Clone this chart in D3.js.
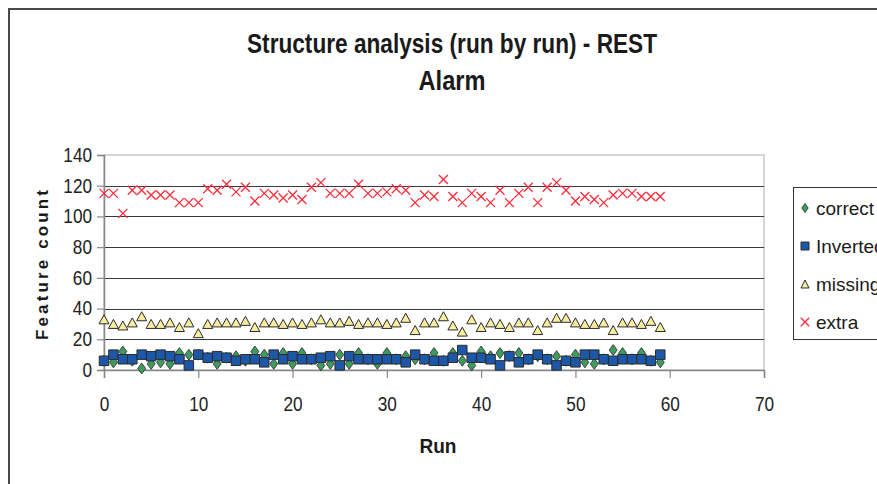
<!DOCTYPE html>
<html>
<head>
<meta charset="utf-8">
<script src="https://cdn.jsdelivr.net/npm/d3@7"></script>
<style>
  html, body { margin: 0; padding: 0; background: #fff; }
  svg { display: block; font-family: "Liberation Sans", Arial, sans-serif; }
</style>
</head>
<body>
<svg id="chart" width="877" height="484"></svg>
<script>
// ---- data ----
const runs = [0,1,2,3,4,5,6,7,8,9,10,11,12,13,14,15,16,17,18,19,20,21,22,23,24,25,26,27,28,29,
              30,31,32,33,34,35,36,37,38,39,40,41,42,43,44,45,46,47,48,49,50,51,52,53,54,55,56,57,58,59];
const correct = [6,5,12,6,1,4,5,4,11,10,10,8,4,8,9,6,12,10,4,11,4,11,7,3,4,10,4,11,7,4,
                 11,7,9,7,7,11,6,11,6,3,12,9,11,9,11,7,9,7,9,6,10,5,4,7,13,11,7,11,6,5];
const inverted = [6,10,7,7,10,9,10,9,7,3,10,8,9,8,6,7,7,5,10,7,9,7,7,8,9,3,9,7,7,7,
                  7,7,5,10,7,6,6,8,13,8,8,7,3,9,5,7,10,7,3,6,5,10,10,7,6,7,7,7,6,10];
const missing = [33,30,29,31,35,30,30,31,28,31,24,30,31,31,31,32,28,31,31,30,31,30,31,33,31,31,32,30,31,31,
                 30,31,34,26,31,31,35,29,25,33,28,31,30,28,31,31,26,31,34,34,31,30,30,31,26,31,31,30,32,28];
const extra = [115,115,102,117,117,114,114,114,109,109,109,118,117,121,116,119,110,115,114,112,114,111,119,122,115,115,115,121,115,115,
               116,118,117,109,114,113,124,113,109,115,113,109,117,109,115,119,109,119,122,117,110,113,111,109,114,115,115,113,113,113];
const seriesNames = ["correct", "Inverted", "missing", "extra"];
const xTicks = [0,10,20,30,40,50,60,70];
const yTicks = [0,20,40,60,80,100,120,140];
const titleLines = ["Structure analysis (run by run) - REST", "Alarm"];
const xTitle = "Run";
const yTitle = "Feature count";

// ---- layout ----
const svg = d3.select("#chart");
const W = 877, H = 484;
const plot = { left: 104, right: 764, top: 155, bottom: 370 };

const x = d3.scaleLinear().domain([0, 70]).range([plot.left, plot.right]);
const y = d3.scaleLinear().domain([0, 140]).range([plot.bottom, plot.top]);

svg.append("rect").attr("width", W).attr("height", H).attr("fill", "#fff");
// outer chart frame
svg.append("rect").attr("x", 9).attr("y", 9).attr("width", 900).attr("height", 500)
  .attr("fill", "none").attr("stroke", "#4a4a4a").attr("stroke-width", 2);

// condense helper
function condense(sel, f) {
  sel.each(function() {
    const w = this.getComputedTextLength();
    d3.select(this).attr("textLength", w * f).attr("lengthAdjust", "spacingAndGlyphs");
  });
}

// title
svg.append("text").attr("x", 452).attr("y", 53).attr("text-anchor", "middle")
  .attr("font-size", 27).attr("font-weight", "bold").attr("fill", "#1a1a1a")
  .attr("textLength", 410).attr("lengthAdjust", "spacingAndGlyphs")
  .text(titleLines[0]);
svg.append("text").attr("x", 452).attr("y", 90).attr("text-anchor", "middle")
  .attr("font-size", 27).attr("font-weight", "bold").attr("fill", "#1a1a1a")
  .attr("textLength", 67).attr("lengthAdjust", "spacingAndGlyphs")
  .text(titleLines[1]);

// plot area border (light gray top/right)
svg.append("rect").attr("x", plot.left).attr("y", plot.top)
  .attr("width", plot.right - plot.left).attr("height", plot.bottom - plot.top)
  .attr("fill", "#fff").attr("stroke", "#c8c8c8").attr("stroke-width", 1.5);

// gridlines
svg.append("g").selectAll("line").data(yTicks.filter(t => t > 0 && t < 140)).join("line")
  .attr("x1", plot.left).attr("x2", plot.right)
  .attr("y1", d => Math.round(y(d)) + 0.5).attr("y2", d => Math.round(y(d)) + 0.5)
  .attr("stroke", "#3a3a3a").attr("stroke-width", 1);

// y axis
const yAxis = svg.append("g").attr("transform", `translate(${plot.left},0)`)
  .call(d3.axisLeft(y).tickValues(yTicks).tickSize(7).tickPadding(5));
yAxis.select(".domain").attr("stroke", "#888").attr("stroke-width", 1.5);
yAxis.selectAll(".tick line").attr("stroke", "#888").attr("stroke-width", 1.2);
yAxis.selectAll("text").attr("font-size", 20).attr("fill", "#222")
  .attr("font-family", "Liberation Sans, Arial, sans-serif");
condense(yAxis.selectAll("text"), 0.86);

// x axis
const xAxis = svg.append("g").attr("transform", `translate(0,${plot.bottom})`)
  .call(d3.axisBottom(x).tickValues(xTicks).tickSize(8).tickPadding(19).tickFormat(d3.format("d")));
xAxis.select(".domain").attr("stroke", "#888").attr("stroke-width", 1.5);
xAxis.selectAll(".tick line").attr("stroke", "#888").attr("stroke-width", 1.2);
xAxis.selectAll("text").attr("font-size", 20).attr("fill", "#222")
  .attr("font-family", "Liberation Sans, Arial, sans-serif");
condense(xAxis.selectAll("text"), 0.86);

// axis titles
svg.append("text").attr("x", 438).attr("y", 453).attr("text-anchor", "middle")
  .attr("font-size", 20).attr("font-weight", "bold").attr("fill", "#1a1a1a")
  .attr("textLength", 37).attr("lengthAdjust", "spacingAndGlyphs").text(xTitle);
svg.append("text").attr("transform", "translate(48,265) rotate(-90)").attr("text-anchor", "middle")
  .attr("font-size", 17).attr("font-weight", "bold").attr("fill", "#1a1a1a")
  .attr("textLength", 150).attr("lengthAdjust", "spacing").text(yTitle);

// marker paths
const diamondPath = (hw, hh) => `M0,${-hh}L${hw},0L0,${hh}L${-hw},0Z`;
const squarePath = s => `M${-s/2},${-s/2}h${s}v${s}h${-s}Z`;
const trianglePath = (w, h) => `M0,${-h/2}L${w/2},${h/2}L${-w/2},${h/2}Z`;
const crossPath = s => `M${-s},${-s}L${s},${s}M${-s},${s}L${s},${-s}`;

const styles = {
  correct:  { d: diamondPath(4, 5.5), fill: "#3f9a5e", stroke: "#2b2b2b", sw: 0.8, ld: diamondPath(3.2, 4.5) },
  Inverted: { d: squarePath(9.5), fill: "#1d58a8", stroke: "#2b2b2b", sw: 1, ld: squarePath(8) },
  missing:  { d: trianglePath(10, 9), fill: "#f8ec9e", stroke: "#2b2b2b", sw: 1, ld: trianglePath(8, 8) },
  extra:    { d: crossPath(4.5), fill: "none", stroke: "#ff2b3a", sw: 1.3, ld: crossPath(4.2) }
};
const seriesData = [correct, inverted, missing, extra];

const gMarks = svg.append("g");
seriesNames.forEach((name, si) => {
  const st = styles[name];
  gMarks.append("g").selectAll("path").data(runs).join("path")
    .attr("transform", (r, i) => `translate(${x(r)},${y(seriesData[si][i])})`)
    .attr("d", st.d).attr("fill", st.fill).attr("stroke", st.stroke).attr("stroke-width", st.sw);
});

// legend
const lg = svg.append("g");
lg.append("rect").attr("x", 793.5).attr("y", 187.5).attr("width", 120).attr("height", 152)
  .attr("fill", "#fff").attr("stroke", "#333").attr("stroke-width", 1);
const rowY = [208, 246, 284, 322];
seriesNames.forEach((name, i) => {
  const st = styles[name];
  lg.append("path").attr("transform", `translate(805,${rowY[i]})`)
    .attr("d", st.ld).attr("fill", st.fill).attr("stroke", st.stroke).attr("stroke-width", st.sw);
  lg.append("text").attr("x", 816).attr("y", rowY[i] + 7).attr("font-size", 19).attr("fill", "#1a1a1a")
    .text(name);
});
</script>
</body>
</html>
